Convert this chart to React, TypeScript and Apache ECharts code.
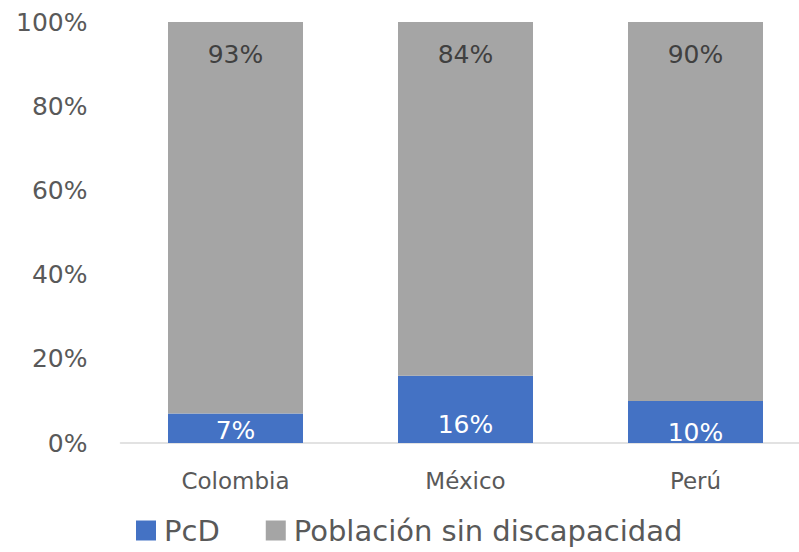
import React, { useEffect, useRef } from "react";
import * as echarts from "echarts";

const categories = ["Colombia", "México", "Perú"];
const pcd = [7, 16, 10];
const sinDiscapacidad = [93, 84, 90];
const yTicks = [0, 20, 40, 60, 80, 100];
const pcdLabelDistance = [0, 6, -2];

export default function App() {
  const ref = useRef<HTMLDivElement>(null);
  useEffect(() => {
    if (!ref.current) return;
    const chart = echarts.init(ref.current, null, { renderer: "svg" });
    const font = "DejaVu Sans";
    chart.setOption({
      animation: false,
      textStyle: { fontFamily: font },
      grid: { left: 120.5, top: 22, width: 690, height: 421, containLabel: false },
      legend: {
        bottom: 2,
        left: 131,
        itemWidth: 20,
        itemHeight: 20,
        itemGap: 46,
        icon: "rect",
        textStyle: {
          fontSize: 29,
          color: "#595959",
          fontFamily: font,
          padding: [0, 0, 0, 3],
        },
        data: ["PcD", "Población sin discapacidad"],
      },
      xAxis: {
        type: "category",
        data: categories,
        axisLine: { lineStyle: { color: "#d9d9d9", width: 1.5 } },
        axisTick: { show: false },
        axisLabel: { fontSize: 23, color: "#595959", margin: 26, fontFamily: font },
      },
      yAxis: {
        type: "value",
        min: yTicks[0],
        max: yTicks[yTicks.length - 1],
        interval: 20,
        splitLine: { show: false },
        axisLine: { show: false },
        axisLabel: {
          fontSize: 25,
          color: "#595959",
          margin: 33,
          fontFamily: font,
          formatter: (v: number) => v + "%",
        },
      },
      series: [
        {
          name: "PcD",
          type: "bar",
          stack: "total",
          barWidth: 135,
          itemStyle: { color: "#4472C4" },
          data: pcd.map((v, i) => ({
            value: v,
            label: {
              show: true,
              position: "insideBottom",
              distance: pcdLabelDistance[i],
              color: "#ffffff",
              fontSize: 25,
              fontFamily: font,
              formatter: (p: any) => p.value + "%",
            },
          })),
        },
        {
          name: "Población sin discapacidad",
          type: "bar",
          stack: "total",
          barWidth: 135,
          itemStyle: { color: "#A5A5A5" },
          label: {
            show: true,
            position: "insideTop",
            distance: 20,
            color: "#404040",
            fontSize: 25,
            fontFamily: font,
            formatter: (p: any) => p.value + "%",
          },
          data: sinDiscapacidad,
        },
      ],
    });
    return () => chart.dispose();
  }, []);
  return (
    <div
      style={{
        position: "absolute",
        left: 0,
        top: 0,
        width: 799,
        height: 552,
        overflow: "hidden",
      }}
    >
      <div ref={ref} style={{ width: 830, height: 552 }} />
    </div>
  );
}
